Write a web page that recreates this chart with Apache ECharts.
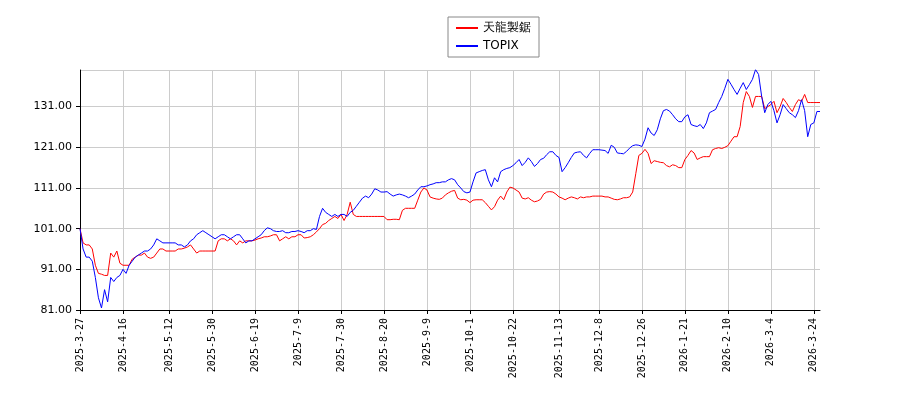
<!DOCTYPE html>
<html>
<head>
<meta charset="utf-8" />
<script src="https://cdn.jsdelivr.net/npm/echarts@6/dist/echarts.min.js"></script>
<style>
  html, body { margin: 0; padding: 0; background: #fff; }
  #chart { width: 900px; height: 400px; }
</style>
</head>
<body>
<div id="chart"></div>
<script>
// trading days: weekdays from 2025-3-27, minus market holidays and days missing in the data
const skipped = ['2025-4-29','2025-5-5','2025-5-6','2025-7-21','2025-8-11','2025-9-15','2025-9-23',
  '2025-10-13','2025-11-3','2025-11-24','2025-11-26','2025-11-27','2025-11-28',
  '2025-12-31','2026-1-1','2026-1-2','2026-1-12','2026-2-11','2026-2-23'];
const tickLabels = ['2025-3-27','2025-4-16','2025-5-12','2025-5-30','2025-6-19','2025-7-9','2025-7-30',
  '2025-8-20','2025-9-9','2025-10-1','2025-10-22','2025-11-13','2025-12-8','2025-12-26',
  '2026-1-21','2026-2-10','2026-3-4','2026-3-24'];

const company = [
  101,97.5,97,97,96,92,90,89.8,89.5,89.5,95,94,95.5,92.5,
  92,92,92,93.5,94,94.5,94.5,95,94,93.7,94,95,96,96,
  95.5,95.5,95.5,95.5,96,96,96.2,96.5,97,96,95,95.5,95.5,95.5,
  95.5,95.5,95.5,98,98.5,98.5,98,98.5,98,97,98,97.5,98,98,
  98,98.2,98.5,98.7,99,99,99.2,99.5,99.5,98,98.5,99,98.5,99,
  99,99.5,99.5,98.7,98.8,99,99.5,100.2,101,102,102.3,103,103.5,104,
  103.5,104.5,103,104.5,107.5,104.5,104,104,104,104,104,104,104,104,
  104,104,103.2,103.2,103.3,103.3,103.2,105.5,106,106,106,106,108,110,
  111,110.5,108.8,108.5,108.3,108.2,108.5,109.3,109.8,110.2,110.4,108.5,108.1,108.2,
  108,107.4,108,108.1,108.1,108.1,107.4,106.5,105.6,106.4,108,109,108.1,110,
  111.2,111,110.5,110,108.5,108.3,108.6,108,107.6,107.8,108.2,109.5,110,110.1,
  110,109.5,108.8,108.5,108.1,108.5,108.8,108.6,108.3,108.8,108.6,108.8,108.8,109,
  109,109,109,108.8,108.8,108.5,108.2,108.1,108.3,108.6,108.6,108.8,110,114.5,
  119,119.5,120.5,119.5,117,117.7,117.5,117.3,117.2,116.5,116.2,116.7,116.5,116,
  116,118,119,120.2,119.6,118,118.4,118.7,118.7,118.7,120.4,120.7,120.9,120.7,
  121,121.4,122.5,123.6,123.6,126.1,132,134.7,133.5,130.8,133.5,133.5,133.5,130.5,
  131,131.5,132.3,129.5,131,133,132,130.8,129.8,131.5,132.7,132.3,134,132,
  132,132,132,132
];
const topix = [
  101,96,94,94,93,89,84,81.5,86,83,89,88,89,89.5,
  91,90,92,93,94,94.5,95,95.5,95.5,96,97,98.5,98,97.5,
  97.5,97.5,97.5,97.5,97,97,96.5,97,98,98.5,99.5,100,100.5,100,
  99.5,99,98.5,99,99.5,99.5,99,98.5,99,99.5,99.5,98.5,97.5,98,
  98,98.5,99,99.5,100.5,101.2,101,100.5,100.3,100.3,100.5,100,100,100.3,
  100.3,100.5,100.3,100,100.5,100.5,101,100.8,104,106,105,104.5,104,104.5,
  104,104.5,104.5,104,105,105.5,106.5,107.5,108.5,109,108.6,109.5,110.8,110.5,
  110,110,110.1,109.5,109,109.3,109.5,109.3,109,108.6,109,109.5,110.5,111.3,
  111.3,111.5,111.8,112,112.3,112.3,112.5,112.5,113,113.3,113,111.8,111,110.1,
  109.8,110,112.5,114.7,115,115.3,115.5,113,111.3,113.5,112.5,115,115.5,115.8,
  116,116.5,117.2,118,116.5,117.3,118.4,117.5,116.3,117,118,118.3,119.2,119.9,
  119.9,119,118.5,115,116,117.2,118.5,119.6,119.8,119.9,119,118.4,119.5,120.4,
  120.4,120.4,120.3,120.2,119.5,121.5,121,119.6,119.5,119.4,120,120.8,121.4,121.6,
  121.5,121.2,123,125.8,124.5,123.9,125.3,128,130,130.3,129.9,129,128,127.3,
  127.3,128.5,129,126.6,126.3,126.1,126.6,125.6,127,129.5,129.9,130.3,132,133.5,
  135.5,137.7,136.5,135.2,134,135.5,136.9,135.2,136.4,137.7,140.1,138.9,133.5,129.5,
  131.5,132.3,130,127,129,131.5,130.5,129.5,129,128.3,130,132.7,130,123.6,
  126.6,127,129.8,129.8
];

const dates = [];
let d = new Date(2025, 2, 27);
while (dates.length < company.length) {
  const s = d.getFullYear() + '-' + (d.getMonth() + 1) + '-' + d.getDate();
  const wd = d.getDay();
  if (wd !== 0 && wd !== 6 && skipped.indexOf(s) < 0) dates.push(s);
  d.setDate(d.getDate() + 1);
}
const showTick = (i, v) => tickLabels.indexOf(v) >= 0;

const chart = echarts.init(document.getElementById('chart'));
chart.setOption({
  animation: false,
  legend: {
    top: 17, left: 448, orient: 'vertical',
    itemWidth: 22, itemHeight: 2, itemGap: 6,
    padding: [5, 8], borderColor: '#888', borderWidth: 1, borderRadius: 0,
    textStyle: { fontFamily: 'DejaVu Sans', fontSize: 12, color: '#000' },
    data: [{ name: '天龍製鋸', icon: 'rect' }, { name: 'TOPIX', icon: 'rect' }]
  },
  grid: { left: 80, right: 80, top: 70, bottom: 90 },
  xAxis: {
    type: 'category', data: dates, boundaryGap: false,
    axisLine: { lineStyle: { color: '#000' } },
    axisTick: { interval: showTick, length: 4, lineStyle: { color: '#000' } },
    axisLabel: { interval: showTick, rotate: 90, fontFamily: 'DejaVu Sans Mono', fontSize: 10, color: '#000' },
    splitLine: { show: true, interval: showTick, lineStyle: { color: '#ccc' } }
  },
  yAxis: {
    type: 'value', min: 81, max: 140, interval: 10,
    axisLine: { show: true, lineStyle: { color: '#000' } },
    axisTick: { show: true, length: 4, lineStyle: { color: '#000' } },
    axisLabel: { showMaxLabel: false, formatter: v => v.toFixed(2), fontFamily: 'DejaVu Sans', fontSize: 11, color: '#000' },
    splitLine: { lineStyle: { color: '#ccc' } }
  },
  series: [
    { name: '天龍製鋸', type: 'line', data: company, showSymbol: false, color: '#ff0000', lineStyle: { width: 1 } },
    { name: 'TOPIX', type: 'line', data: topix, showSymbol: false, color: '#0000ff', lineStyle: { width: 1 } }
  ]
});
</script>
</body>
</html>
